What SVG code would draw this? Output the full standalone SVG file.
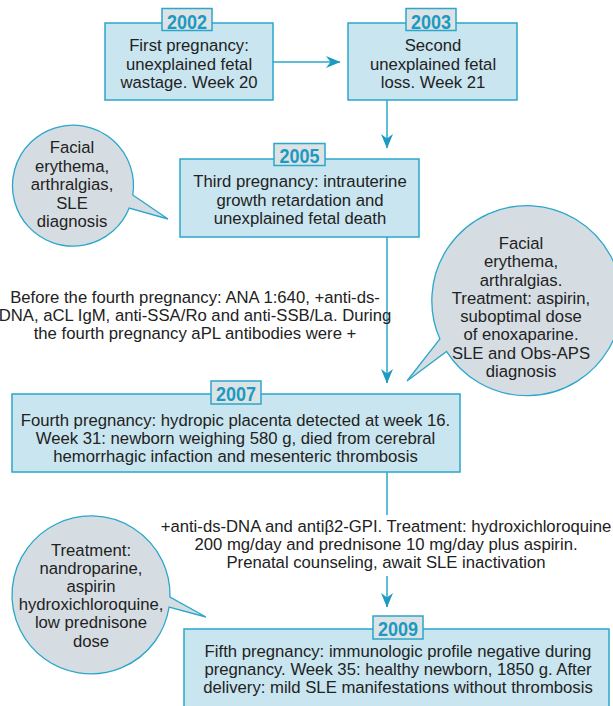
<svg xmlns="http://www.w3.org/2000/svg" width="613" height="706" viewBox="0 0 613 706">
<defs>
<style>
.box{fill:#c9e5ef;stroke:#2aa7cb;stroke-width:1.5}
.lab{fill:#dde2e5;stroke:#2aa7cb;stroke-width:1.5}
.labt{font-family:"Liberation Sans",Arial,sans-serif;font-weight:bold;font-size:20.5px;fill:#1b9ac2;text-anchor:middle}
.t{font-family:"Liberation Sans",Arial,sans-serif;font-size:16.7px;fill:#222;text-anchor:middle}
.bub{fill:#d5dde2;stroke:#2aa7cb;stroke-width:1.3}
.con{stroke:#2aa7cb;stroke-width:1.5;fill:none}
</style>
<marker id="ah" markerUnits="userSpaceOnUse" markerWidth="16" markerHeight="14" viewBox="0 -7 16 14" refX="14" refY="0" orient="auto">
<path d="M0,-6 L14.5,0 L0,6 L4.5,0 Z" fill="#1b9ac2"/>
</marker>
</defs>
<rect width="613" height="706" fill="#fff"/>

<g id="connectors">
<line class="con" x1="273" y1="62" x2="340" y2="62" marker-end="url(#ah)"/>
<line class="con" x1="387" y1="100" x2="387" y2="148" marker-end="url(#ah)"/>
<line class="con" x1="387" y1="237" x2="387" y2="383" marker-end="url(#ah)"/>
<line class="con" x1="387" y1="472" x2="387" y2="515"/>
<line class="con" x1="387" y1="576" x2="387" y2="607" marker-end="url(#ah)"/>
</g>

<g id="n2002">
<rect class="box" x="105" y="23" width="168" height="77"/>
<rect class="lab" x="162" y="8.5" width="50" height="22"/>
<text class="labt" x="187" y="28.5" textLength="40" lengthAdjust="spacingAndGlyphs">2002</text>
<text class="t" x="189" y="51">First pregnancy:</text>
<text class="t" x="189" y="69.5">unexplained fetal</text>
<text class="t" x="189" y="88">wastage. Week 20</text>
</g>

<g id="n2003">
<rect class="box" x="348" y="23" width="169" height="77"/>
<rect class="lab" x="406" y="8.5" width="50" height="22"/>
<text class="labt" x="431" y="28.5" textLength="40" lengthAdjust="spacingAndGlyphs">2003</text>
<text class="t" x="433" y="51">Second</text>
<text class="t" x="433" y="69.5">unexplained fetal</text>
<text class="t" x="433" y="88">loss. Week 21</text>
</g>

<g id="n2005">
<rect class="box" x="180" y="159" width="239" height="78"/>
<rect class="lab" x="274" y="143.5" width="51" height="22"/>
<text class="labt" x="299.5" y="163" textLength="40" lengthAdjust="spacingAndGlyphs">2005</text>
<text class="t" x="300" y="187">Third pregnancy: intrauterine</text>
<text class="t" x="300" y="205.5">growth retardation and</text>
<text class="t" x="300" y="224">unexplained fetal death</text>
</g>

<g id="bubble1">
<path class="bub" d="M132.75,195 A60.5,60.5 0 1 0 129.2,208 L168,219 Z"/>
<text class="t" x="72" y="153">Facial</text>
<text class="t" x="72" y="171.5">erythema,</text>
<text class="t" x="72" y="190">arthralgias,</text>
<text class="t" x="72" y="208.5">SLE</text>
<text class="t" x="72" y="227">diagnosis</text>
</g>

<g id="note1">
<text class="t" x="195" y="302.5">Before the fourth pregnancy: ANA 1:640, +anti-ds-</text>
<text class="t" x="195" y="320.5">DNA, aCL IgM, anti-SSA/Ro and anti-SSB/La. During</text>
<text class="t" x="195" y="338.5">the fourth pregnancy aPL antibodies were +</text>
</g>

<g id="bubble2">
<path class="bub" d="M439.9,339 A95,95 0 1 1 446.5,351.4 L407,381 Z"/>
<text class="t" x="521" y="249">Facial</text>
<text class="t" x="521" y="267.3">erythema,</text>
<text class="t" x="521" y="285.6">arthralgias.</text>
<text class="t" x="521" y="303.9">Treatment: aspirin,</text>
<text class="t" x="521" y="322.1">suboptimal dose</text>
<text class="t" x="521" y="340.4">of enoxaparine.</text>
<text class="t" x="521" y="358.7">SLE and Obs-APS</text>
<text class="t" x="521" y="377">diagnosis</text>
</g>

<g id="n2007">
<rect class="box" x="12" y="394" width="448" height="78"/>
<rect class="lab" x="211" y="381" width="50" height="23"/>
<text class="labt" x="236" y="400.5" textLength="40" lengthAdjust="spacingAndGlyphs">2007</text>
<text class="t" x="235.5" y="425.5">Fourth pregnancy: hydropic placenta detected at week 16.</text>
<text class="t" x="235.5" y="444">Week 31: newborn weighing 580 g, died from cerebral</text>
<text class="t" x="235.5" y="462">hemorrhagic infaction and mesenteric thrombosis</text>
</g>

<g id="note2">
<text class="t" x="386" y="532">+anti-ds-DNA and antiβ2-GPI. Treatment: hydroxichloroquine</text>
<text class="t" x="386" y="550">200 mg/day and prednisone 10 mg/day plus aspirin.</text>
<text class="t" x="386" y="568">Prenatal counseling, await SLE inactivation</text>
</g>

<g id="bubble3">
<path class="bub" d="M170,597 A79,79 0 1 0 169.1,607 L206,617 Z"/>
<text class="t" x="91" y="555.5">Treatment:</text>
<text class="t" x="91" y="573.5">nandroparine,</text>
<text class="t" x="91" y="591.5">aspirin</text>
<text class="t" x="91" y="610">hydroxichloroquine,</text>
<text class="t" x="91" y="628">low prednisone</text>
<text class="t" x="91" y="647">dose</text>
</g>

<g id="n2009">
<rect class="box" x="184" y="629" width="425" height="100"/>
<rect class="lab" x="373" y="616" width="50" height="23"/>
<text class="labt" x="398" y="636" textLength="40" lengthAdjust="spacingAndGlyphs">2009</text>
<text class="t" x="398" y="656.7">Fifth pregnancy: immunologic profile negative during</text>
<text class="t" x="398" y="675">pregnancy. Week 35: healthy newborn, 1850 g. After</text>
<text class="t" x="398" y="693">delivery: mild SLE manifestations without thrombosis</text>
</g>
</svg>
